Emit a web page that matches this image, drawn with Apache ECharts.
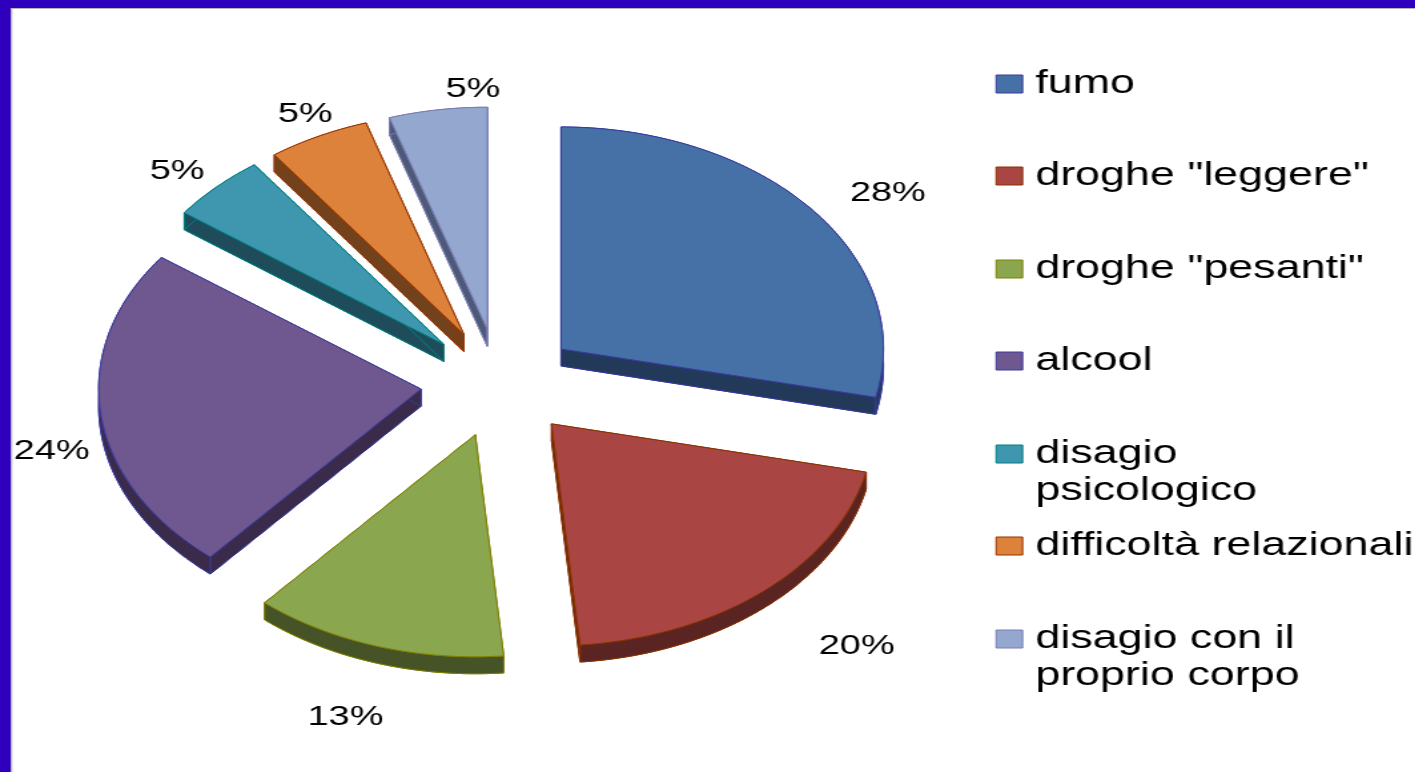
<!DOCTYPE html>
<html>
<head>
<meta charset="utf-8">
<style>
html,body{margin:0;padding:0;background:#fff;overflow:hidden;width:1415px;height:772px}
#chart{position:absolute;left:0;top:0;height:772px;transform-origin:0 0}
</style>
<script src="https://cdn.jsdelivr.net/npm/echarts@6/dist/echarts.min.js"></script>
</head>
<body>
<div id="chart"></div>
<script>
// Data
const categories = ['fumo','droghe "leggere"','droghe "pesanti"','alcool','disagio psicologico','difficoltà relazionali','disagio con il proprio corpo'];
const legendLines = [['fumo'],['droghe "leggere"'],['droghe "pesanti"'],['alcool'],['disagio','psicologico'],['difficoltà relazionali'],['disagio con il','proprio corpo']];
const shares = [28.49,20.1,12.75,23.76,4.9,5.09,4.91];
// Styles
const faceColors = ['#4671A6','#A94643','#8AA64E','#6F578F','#3E97AE','#DC823A','#94A8CF'];
const sideColors = ['#22395A','#5A2422','#465327','#3A2B4A','#1F4C5A','#72421C','#4C5A78'];
const edgeColors = ['#3A3A9E','#8B3300','#808000','#3A3A9E','#008080','#993300','#7C7CB4'];
// Layout (reference pixels; the reference is horizontally stretched, so is the canvas)
const S = 1.33;
const W = 1415 / S;
const CX = 499, CY = 383, RX = 322, RY = 222, DEPTH = 17, EXPLODE = 0.245;
const labelNudge = [[25,11],[50,22],[-11,29],[15,32],[6,16],[16,17],[45,23]];
const legendCenters = [82,174,267,359,452,544,637];
const LINE = 37;

const el = document.getElementById('chart');
el.style.width = W + 'px';
el.style.transform = 'scaleX(' + S + ')';
const chart = echarts.init(el, null, {renderer:'canvas', width:W, height:772});

const total = shares.reduce((a,b)=>a+b,0);
let acc = 0;
const spans = shares.map(v=>{const s=acc/total*2*Math.PI; acc+=v; return [s,acc/total*2*Math.PI];});

function renderSlice(i, params, api){
  const [a0,a1] = spans[i];
  const mid = (a0+a1)/2;
  const value = api.value(0);
  const ax = CX + EXPLODE*RX*Math.sin(mid);
  const ay = CY - EXPLODE*RY*Math.cos(mid);
  const arc = [];
  const n = Math.max(8, Math.ceil((a1-a0)*180/Math.PI));
  for(let k=0;k<=n;k++){
    const t = a0+(a1-a0)*k/n;
    arc.push([(ax+RX*Math.sin(t))/S, ay-RY*Math.cos(t)]);
  }
  const apex = [ax/S, ay];
  const down = p => [p[0], p[1]+DEPTH];
  const face = [apex].concat(arc);
  const band = arc.concat(arc.slice().reverse().map(down));
  const first = arc[0], last = arc[arc.length-1];
  const style = (fill,stroke) => ({fill:fill, stroke:stroke, lineWidth:1, lineJoin:'round'});
  const side = sideColors[i], edge = edgeColors[i];
  const lx = ax + 1.2*RX*Math.sin(mid) + labelNudge[i][0];
  const ly = ay - 1.2*RY*Math.cos(mid) + labelNudge[i][1];
  return {type:'group', silent:true, children:[
    {type:'polygon', shape:{points:face.map(down)}, style:style(side,edge)},
    {type:'polygon', shape:{points:[apex,first,down(first),down(apex)]}, style:style(side,edge)},
    {type:'polygon', shape:{points:[apex,last,down(last),down(apex)]}, style:style(side,edge)},
    {type:'polygon', shape:{points:band}, style:style(side,edge)},
    {type:'polygon', shape:{points:face}, style:style(faceColors[i],edge)},
    {type:'text', x:lx/S, y:ly, style:{text:Math.round(value)+'%', fill:'#000', font:'28.5px "Liberation Sans"', align:'center', verticalAlign:'middle'}}
  ]};
}

const option = {
  animation:false,
  backgroundColor:'#fff',
  legend: categories.map((name,i)=>({
    data:[name],
    selectedMode:false,
    orient:'vertical',
    icon:'rect',
    left:994.5/S,
    top:legendCenters[i]-(legendLines[i].length>1?1.5:0.5)*LINE+2,
    padding:0,
    itemWidth:26.5/S,
    itemHeight:18,
    itemStyle:{color:faceColors[i],borderColor:edgeColors[i],borderWidth:1},
    formatter:()=>(legendLines[i].length>1?'\n':'')+legendLines[i].join('\n'),
    textStyle:{fontFamily:'Liberation Sans',fontSize:33.7,color:'#000',lineHeight:LINE,padding:[0,0,0,4.5]}
  })),
  graphic:[
    {type:'rect',shape:{x:0,y:0,width:W,height:8},style:{fill:'#2E00BE'},z:100,silent:true},
    {type:'rect',shape:{x:0,y:0,width:11/S,height:772},style:{fill:'#2E00BE'},z:100,silent:true},
    {type:'rect',shape:{x:11/S,y:8,width:W,height:1},style:{fill:'#B4B4B4'},z:100,silent:true},
    {type:'rect',shape:{x:11/S,y:8,width:1,height:764},style:{fill:'#B4B4B4'},z:100,silent:true}
  ],
  series: categories.map((name,i)=>({
    type:'custom',
    name:name,
    coordinateSystem:'none',
    silent:true,
    itemStyle:{color:faceColors[i]},
    renderItem:(params,api)=>renderSlice(i,params,api),
    data:[[shares[i]]]
  }))
};
chart.setOption(option);
</script>
</body>
</html>
